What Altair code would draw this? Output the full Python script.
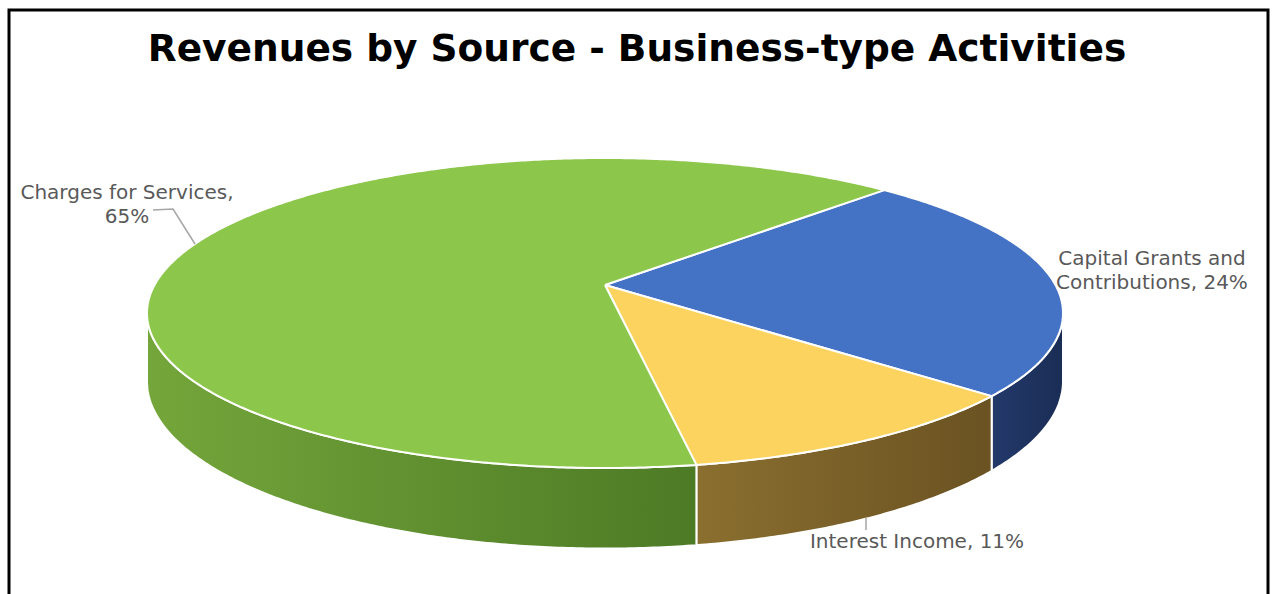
import math
import altair as alt
import pandas as pd

# ---- data ----
title_text = "Revenues by Source - Business-type Activities"
categories = ["Capital Grants and Contributions", "Interest Income", "Charges for Services"]
shares = [24, 11, 65]
label_texts = ["Capital Grants and\nContributions, 24%", "Interest Income, 11%", "Charges for Services,\n65%"]
top_colors = ["#4472C4", "#FBD35E", "#8CC74B"]
side_colors = [["#23396A", "#1A2D55"], ["#8A6F2F", "#6A5222"], ["#74A63B", "#4D7A25"]]

# ---- layout (page pixels) ----
PAD_L, PAD_T = 9, 10
VIEW_W, VIEW_H = 1259, 600
CX, CY = 605, 313          # centre of the projected ellipse
RX, RY = 458, 155          # projected half-axes
APEX_DY = -28              # projected pie centre, relative to CY
DEPTH = 66                 # pie thickness at mid depth
START = 44.4               # first slice start, degrees clockwise from back
label_pos = [(1152, 259), (917, 542), (127, 193)]
leaders = {
    "Charges for Services": [(153, 210), (173, 209), (195, 244)],
    "Interest Income": [(866, 518), (866, 530)],
}

# perspective: Y(v) = (alpha*v + beta) / (gamma*v + 1), v = cos(theta)
BETA = APEX_DY
GAMMA = -2 * BETA / (2 * RY)
ALPHA = -RY * GAMMA - RY - BETA
A_X = RX * math.sqrt(1 - GAMMA ** 2)


def rim(theta_deg, drop=0.0):
    t = math.radians(theta_deg)
    u, v = math.sin(t), math.cos(t)
    w = 1 + GAMMA * v
    return CX + A_X * u / w, CY + (ALPHA * v + BETA) / w + drop / w


SIL = math.degrees(math.acos(-GAMMA))  # silhouette angle (right); left is 360 - SIL

rows = []
order_pieces = []
acc = START
for k, (cat, s) in enumerate(zip(categories, shares)):
    a = acc
    b = acc + s / 100.0 * 360.0
    acc = b
    n = max(8, int((b - a) * 2))
    apex = (CX, CY + BETA)
    pts = [apex] + [rim(a + (b - a) * j / n) for j in range(n + 1)] + [apex]
    name = f"top_{k}"
    for i, (x, y) in enumerate(pts):
        rows.append({"piece": name, "i": i, "x": x, "y": y})
    order_pieces.append(("top", k, name))
    for off in (0, 360):
        lo = max(a, SIL + off)
        hi = min(b, 360 - SIL + off)
        if hi > lo:
            m = max(6, int((hi - lo) * 2))
            upper = [rim(lo + (hi - lo) * j / m) for j in range(m + 1)]
            lower = [rim(hi - (hi - lo) * j / m, DEPTH) for j in range(m + 1)]
            spts = upper + lower + [upper[0]]
            sname = f"side_{k}_{off}"
            for i, (x, y) in enumerate(spts):
                rows.append({"piece": sname, "i": i, "x": x, "y": y})
            order_pieces.append(("side", k, sname))

df = pd.DataFrame(rows)

xs = alt.X("x:Q", scale=alt.Scale(domain=[PAD_L, PAD_L + VIEW_W]), axis=None)
ys = alt.Y("y:Q", scale=alt.Scale(domain=[PAD_T, PAD_T + VIEW_H], reverse=True), axis=None)

layers = []
for kind in ("side", "top"):
    for kd, k, name in order_pieces:
        if kd != kind:
            continue
        if kind == "top":
            fill = top_colors[k]
        else:
            fill = alt.Gradient(
                gradient="linear", x1=0, x2=1, y1=0, y2=0,
                stops=[alt.GradientStop(color=side_colors[k][0], offset=0),
                       alt.GradientStop(color=side_colors[k][1], offset=1)],
            )
        layers.append(
            alt.Chart(df)
            .transform_filter(alt.datum.piece == name)
            .mark_line(fill=fill, stroke="white", strokeWidth=2, strokeJoin="round")
            .encode(x=xs, y=ys, order=alt.Order("i:Q"))
        )

lrows = []
for seg, pts in leaders.items():
    for i, (x, y) in enumerate(pts):
        lrows.append({"seg": seg, "i": i, "x": x, "y": y})
ldf = pd.DataFrame(lrows)
layers.append(
    alt.Chart(ldf)
    .mark_line(color="#A6A6A6", strokeWidth=1.5)
    .encode(x=xs, y=ys, detail="seg:N", order=alt.Order("i:Q"))
)

labdf = pd.DataFrame({
    "text": label_texts,
    "x": [p[0] for p in label_pos],
    "y": [p[1] for p in label_pos],
})
layers.append(
    alt.Chart(labdf)
    .mark_text(lineBreak="\n", align="center", baseline="middle", font="DejaVu Sans",
               fontSize=20, color="#595959", lineHeight=24)
    .encode(x=xs, y=ys, text="text:N")
)

tdf = pd.DataFrame({"text": [title_text], "x": [637], "y": [50]})
layers.append(
    alt.Chart(tdf)
    .mark_text(align="center", baseline="middle", font="DejaVu Sans", fontSize=37.5,
               fontWeight="bold", color="black")
    .encode(x=xs, y=ys, text="text:N")
)

chart = (
    alt.layer(*layers)
    .properties(width=VIEW_W, height=VIEW_H, background="white",
                padding={"left": PAD_L, "top": PAD_T, "right": 4, "bottom": 0},
                autosize=alt.AutoSizeParams(type="none"))
    .configure_view(stroke="black", strokeWidth=3)
)

chart.save("out.html", embed_options={"renderer": "svg", "actions": False})
